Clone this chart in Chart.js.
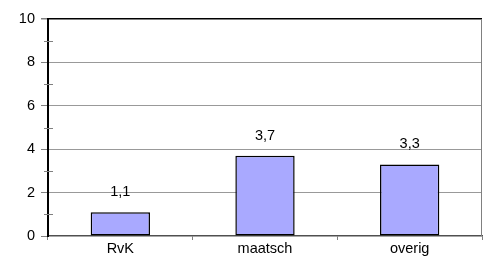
<!DOCTYPE html>
<html><head><meta charset="utf-8">
<script src="https://cdn.jsdelivr.net/npm/chart.js@4/dist/chart.umd.min.js"></script>
<style>html,body{margin:0;padding:0;background:#fff}#wrap{width:483px;height:260px}</style>
</head><body><div id="wrap"><canvas id="c" width="483" height="260"></canvas></div>
<script>
const categories = ["RvK", "maatsch", "overig"];
const values = [1.1, 3.7, 3.3];
const valueLabels = ["1,1", "3,7", "3,3"];
const yMin = 0, yMax = 10;

const FONT = "'Liberation Sans', Arial, sans-serif";

const extras = {
  id: 'extras',
  afterDatasetsDraw(chart) {
    const ctx = chart.ctx, a = chart.chartArea, y = chart.scales.y;
    ctx.save();
    ctx.strokeStyle = '#808080'; ctx.lineWidth = 1;
    ctx.beginPath(); ctx.moveTo(a.right - 0.5, a.top); ctx.lineTo(a.right - 0.5, a.bottom); ctx.stroke();
    for (let v = yMin + 1; v < yMax; v += 2) {
      const py = Math.round(y.getPixelForValue(v)) + 0.5;
      ctx.beginPath(); ctx.moveTo(a.left - 4, py); ctx.lineTo(a.left + 5, py); ctx.stroke();
    }
    const meta = chart.getDatasetMeta(0);
    ctx.fillStyle = '#000'; ctx.font = '14.5px ' + FONT;
    ctx.textAlign = 'center'; ctx.textBaseline = 'middle';
    meta.data.forEach((bar, i) => {
      ctx.fillText(valueLabels[i], bar.x, bar.y - 20);
    });
    ctx.restore();
  }
};

new Chart(document.getElementById('c'), {
  type: 'bar',
  data: {
    labels: categories,
    datasets: [{
      data: values,
      backgroundColor: '#A9A9FF',
      borderColor: '#000000',
      borderWidth: 1.5,
      borderSkipped: false,
      barPercentage: 0.41,
      categoryPercentage: 1.0
    }]
  },
  options: {
    responsive: false,
    animation: false,
    devicePixelRatio: 1,
    layout: { padding: { top: 19, right: 1, left: 0, bottom: 0 } },
    plugins: { legend: { display: false }, tooltip: { enabled: false } },
    scales: {
      x: {
        offset: true,
        grid: { offset: true, drawOnChartArea: false, tickLength: 4, color: '#808080', tickColor: '#808080' },
        border: { color: '#505050', width: 1.5 },
        ticks: { color: '#000', font: { family: FONT, size: 14.5 }, padding: 0 },
        afterFit(s) { s.height = 24; }
      },
      y: {
        min: yMin, max: yMax,
        ticks: { stepSize: 2, color: '#000', font: { family: FONT, size: 14.5 }, padding: 6 },
        grid: {
          color: (c) => c.tick && c.tick.value === yMax ? '#000000' : (c.tick && c.tick.value === yMin ? 'rgba(0,0,0,0)' : '#999999'),
          lineWidth: (c) => c.tick && c.tick.value === yMax ? 1.5 : 1,
          tickLength: 7, tickColor: '#808080'
        },
        border: { color: '#000000', width: 2 },
        afterFit(s) { s.width = 48; }
      }
    }
  },
  plugins: [extras]
});
</script></body></html>
